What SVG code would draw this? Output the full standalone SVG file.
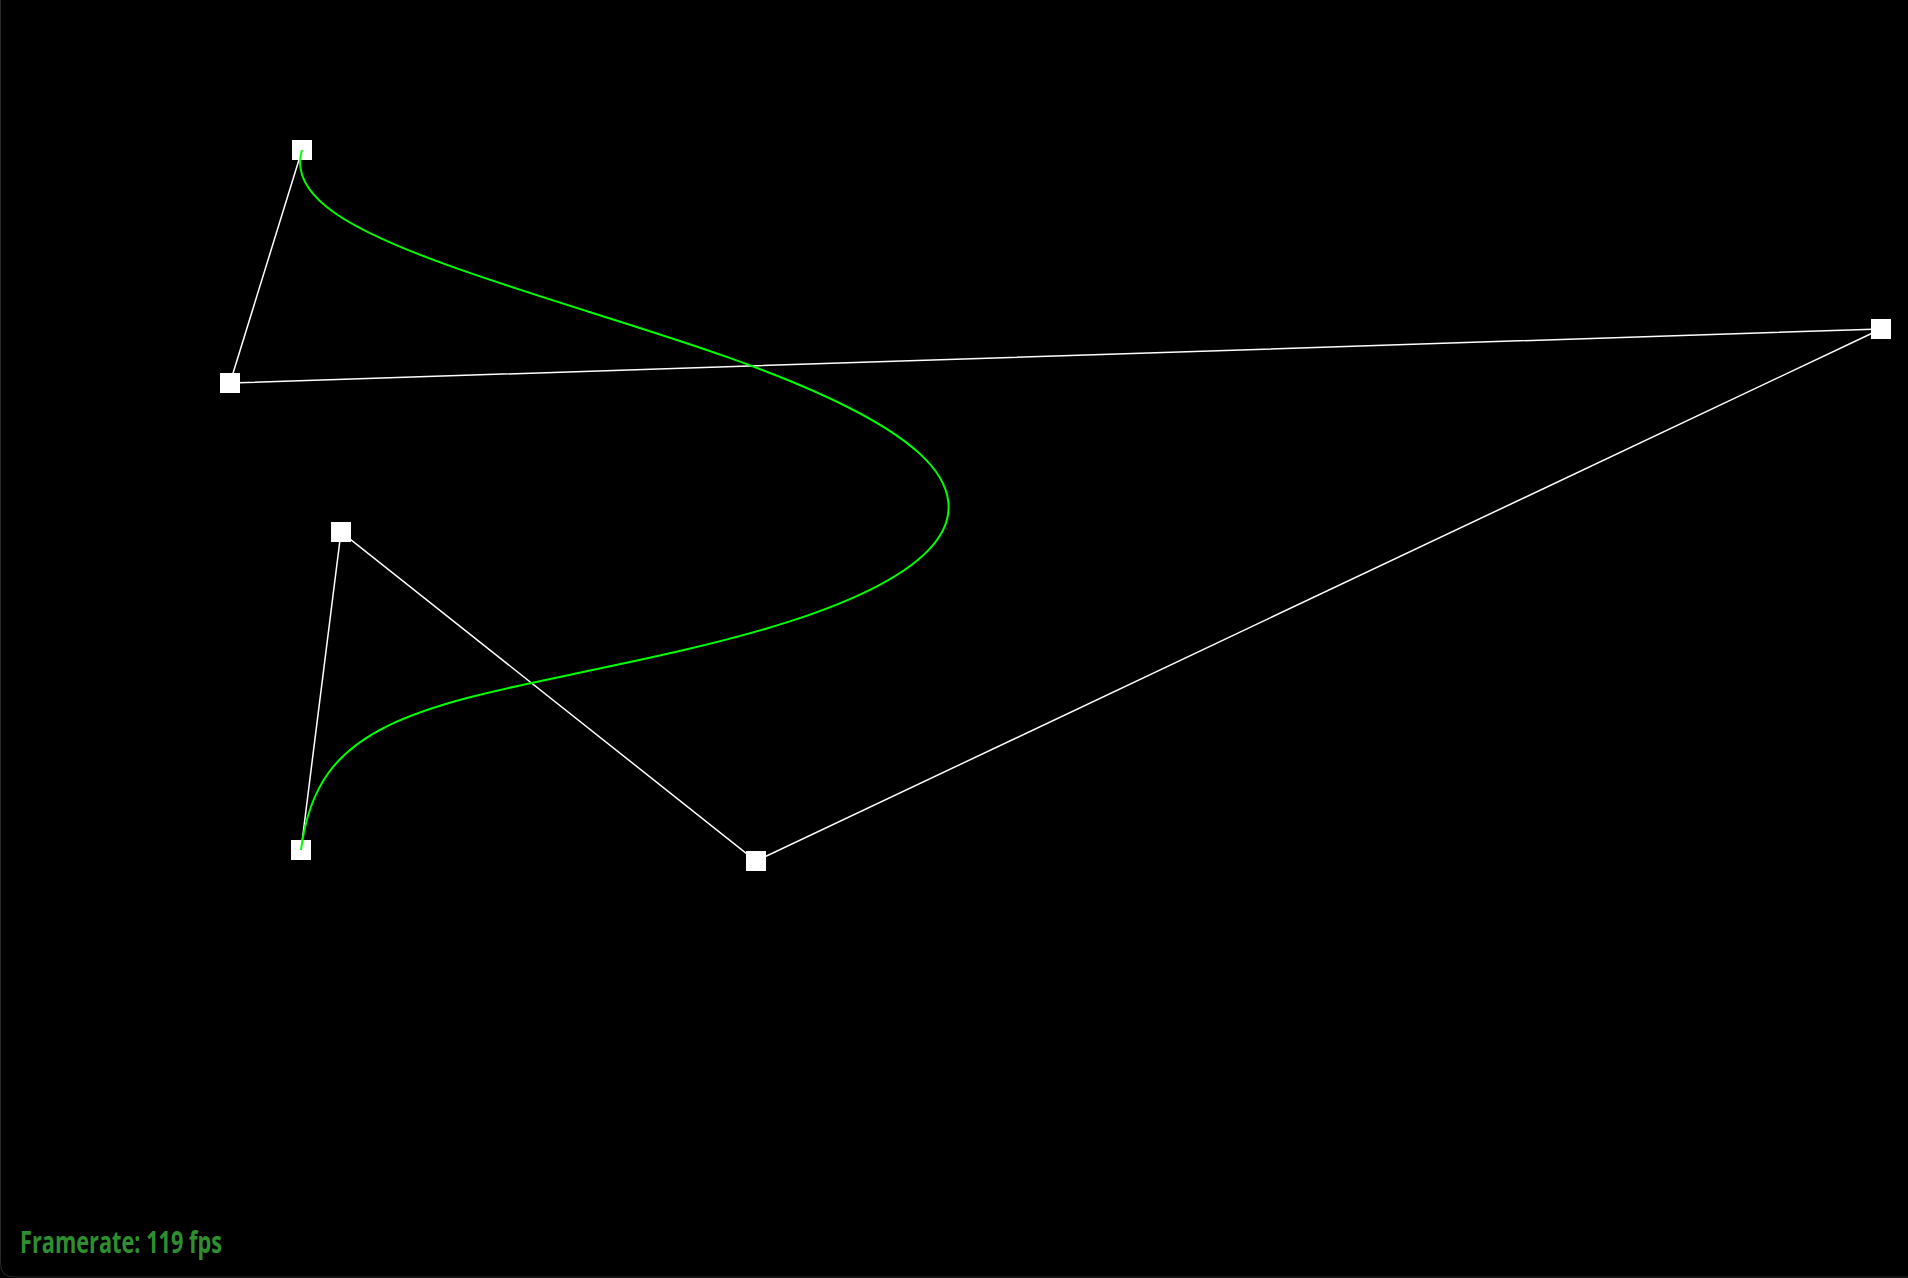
<svg xmlns="http://www.w3.org/2000/svg" width="1908" height="1278" viewBox="0 0 1908 1278">
<style>
.poly{fill:none;stroke:#ffffff;stroke-width:1.5}
.curve{fill:none;stroke:#00ff00;stroke-width:2}
.pt{fill:#ffffff}
.fps{font-family:"Open Sans","Liberation Sans",sans-serif;font-weight:bold;font-size:30px;fill:#2f8f2f}
</style>
<rect x="0" y="0" width="1908" height="1278" fill="#000000"/>
<path d="M0.5,0 V1263 Q0.5,1277 14,1277 H1908" fill="none" stroke="#2a2a2a" stroke-width="1"/>
<g id="connectors">
<polyline class="poly" points="302,150 230,383 1881,329 756,861 341,532 301,850"/>
</g>
<g id="p0"><rect class="pt" x="292" y="140" width="20" height="20"/></g>
<g id="p1"><rect class="pt" x="220" y="373" width="20" height="20"/></g>
<g id="p2"><rect class="pt" x="1871" y="319" width="20" height="20"/></g>
<g id="p3"><rect class="pt" x="746" y="851" width="20" height="20"/></g>
<g id="p4"><rect class="pt" x="331" y="522" width="20" height="20"/></g>
<g id="p5"><rect class="pt" x="291" y="840" width="20" height="20"/></g>
<g id="curve">
<path class="curve" d="M302,150 C287,198.54 358.73,232.97 447.73,265.16 C536.74,297.35 643.5,327.08 730.33,358.12 C817.17,389.16 884.57,421.29 919.43,453.38 C954.29,485.47 957.1,517.3 932.13,546.09 C907.15,574.88 854.88,600.41 789.75,621.42 C724.61,642.44 647.11,658.73 574.62,673.81 C502.13,688.9 435.15,702.57 386.83,726.34 C338.51,750.1 309.33,783.75 301,850"/>
</g>
<text class="fps" x="20" y="1253" textLength="202" lengthAdjust="spacingAndGlyphs">Framerate: 119 fps</text>
</svg>
